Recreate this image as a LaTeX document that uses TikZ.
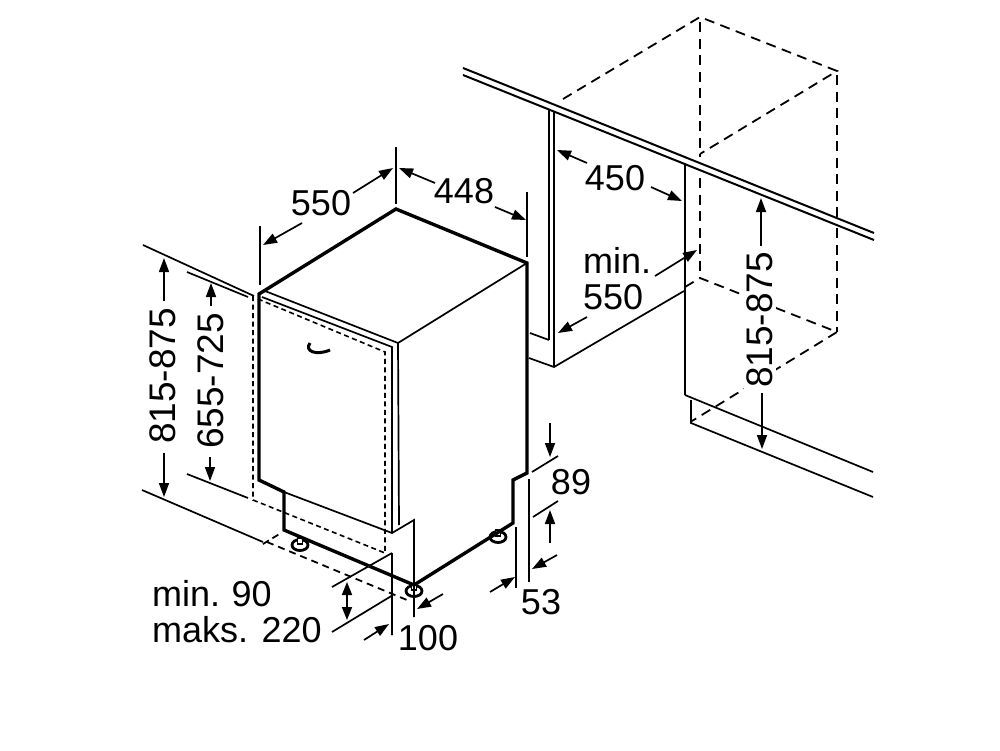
\documentclass[tikz,border=0pt]{standalone}
\usepackage{fontspec}
\setmainfont{Liberation Sans}
\usetikzlibrary{arrows.meta}
\tikzset{
  heavy/.style={line width=3.4pt,line join=miter},
  thin line/.style={line width=1.7pt},
  mid line/.style={line width=2pt},
  dash wide/.style={line width=1.8pt,dash pattern=on 10pt off 6.5pt},
  dash small/.style={line width=1.6pt,dash pattern=on 5pt off 3.5pt},
  dim/.style={line width=1.7pt,-{Triangle[length=14pt,width=10pt]}},
  dimboth/.style={line width=1.7pt,{Triangle[length=13pt,width=10pt]}-{Triangle[length=13pt,width=10pt]}},
  lab/.style={inner sep=0pt,font=\fontsize{36}{40}\selectfont,text=black},
  sidelab/.style={lab,rotate=90,font=\fontsize{37}{40}\selectfont},
  leftlab/.style={lab,anchor=base west},
  foot/.style={line width=2.8pt,fill=white}
}
\begin{document}
\begin{tikzpicture}[x=1pt,y=-1pt]
            \useasboundingbox (0,0) rectangle (1000,750);

            % dishwasher corners
            \coordinate (apex) at (396,209);
            \coordinate (topleft) at (259,294);
            \coordinate (topright) at (527,263);
            \coordinate (topfront) at (398,343);
            \coordinate (doorlow) at (259,480);
            \coordinate (plinthtop) at (284,492);
            \coordinate (plinthlow) at (284,530);
            \coordinate (footcorner) at (414,585);

            % dashed niche, right
            \draw[dash wide] (563,99) -- (700,17) -- (837,71) -- (700,154);
            \draw[dash wide] (700,22) -- (700,157) (700,178) -- (700,278);
            \draw[dash wide] (837,75) -- (837,217) (837,228) -- (837,332);
            \draw[dash wide] (685,287) -- (700,278) -- (837,332) -- (692,421);

            % worktop and cabinets
            \draw[mid line] (463,68) -- (874,233) (463,75) -- (874,240);
            \draw[mid line] (549,110) -- (549,340) (554,112) -- (554,367);
            \draw[thin line] (530,333) -- (549,340);
            \draw[thin line] (529,358) -- (554,367) -- (684,291);
            \draw[mid line] (685,165) -- (685,395);
            \draw[thin line] (685,395) -- (873,472);
            \draw[thin line] (691,400) -- (691,423) -- (873,497);

            % feet
            \foreach \fx/\fy in {300/545,414/591,498/537} {
                \draw[foot] (\fx,\fy) ellipse (8 and 5.5);
                \draw[line width=1.4pt,fill=white] (\fx-2.5,\fy-7) rectangle (\fx+2.5,\fy-1);
            }

            % dishwasher
            \draw[heavy] (topleft) -- (apex) -- (topright) -- (527,473) -- (513,480) -- (513,523) -- (footcorner) -- (plinthlow) -- (plinthtop) -- (doorlow) -- cycle;
            \draw[thin line] (topfront) -- (topright);
            \draw[thin line] (265,291) -- (topfront) -- (399,525);
            \draw[thin line] (262,297) -- (392,347) -- (392,533);
            \draw[thin line] (plinthtop) -- (392,533) -- (414,520) -- (414,617);
            \draw[dash small] (253,296) -- (253,500) -- (385,553) -- (385,352) -- (258,299);
            \draw[dash wide,dash pattern=on 7pt off 5pt] (267,542) -- (407,600);
            \draw[dash wide,dash pattern=on 7pt off 4pt] (263,544) -- (281,533);
            \draw[line width=3pt] (310,343) .. controls (304,351) and (316,356) .. (330,350);

            % extension lines
            \draw[thin line] (396,147) -- (396,204) (260,226) -- (260,285) (527,192) -- (527,257);
            \draw[thin line] (143,245) -- (254,296) (187,272) -- (248,297);
            \draw[thin line] (142,490) -- (263,542) (187,474) -- (248,498);
            \draw[thin line] (392,553) -- (332,587) (393,595) -- (332,632) (392,553) -- (392,635);
            \draw[thin line] (516,527) -- (516,588) (529,479) -- (529,582);
            \draw[thin line] (532,472) -- (558,456) (533,517) -- (558,501);

            % labels
            \node[lab] (depth) at (321,203) {550};
            \node[lab] (width) at (464,191) {448};
            \node[lab] (niche) at (615,178) {450};
            \node[leftlab] (nichemin) at (583,273) {min.};
            \node[leftlab] (nichedepth) at (583,309) {550};
            \node[sidelab] (heightl) at (163,376) {815-875};
            \node[sidelab] (door) at (211,381) {655-725};
            \node[sidelab,fill=white,inner sep=3pt] (heightr) at (760,320) {815-875};
            \node[lab] (plinth) at (571,482) {89};
            \node[lab] (foot53) at (541,602) {53};
            \node[lab] (foot100) at (428,638) {100};
            \node[leftlab] (gapmin) at (152,606) {min.\hspace{-2pt} 90};
            \node[leftlab] (gapmax) at (152,642) {maks. 220};

            % dimension arrows
            \draw[dim] (302,223) -- (263,245);
            \draw[dim] (353,193) -- (393,168);
            \draw[dim] (435,183) -- (399,168);
            \draw[dim] (495,207) -- (526,220);
            \draw[dim] (164,301) -- (164,258);
            \draw[dim] (211,306) -- (211,283);
            \draw[dim] (164,453) -- (164,497);
            \draw[dim] (210,457) -- (210,481);
            \draw[dimboth] (347,582) -- (347,620);
            \draw[dim] (364,640) -- (389,624);
            \draw[dim] (443,594) -- (417,609);
            \draw[dim] (490,592) -- (515,577);
            \draw[dim] (557,555) -- (532,569);
            \draw[dim] (550,423) -- (550,457);
            \draw[dim] (550,543) -- (550,510);
            \draw[dim] (587,163) -- (557,150);
            \draw[dim] (651,187) -- (682,201);
            \draw[dim] (655,276) -- (697,250);
            \draw[dim] (587,317) -- (558,333);
            \draw[dim] (761,246) -- (761,198);
            \draw[dim] (762,393) -- (762,449);
        \end{tikzpicture}
\end{document}
